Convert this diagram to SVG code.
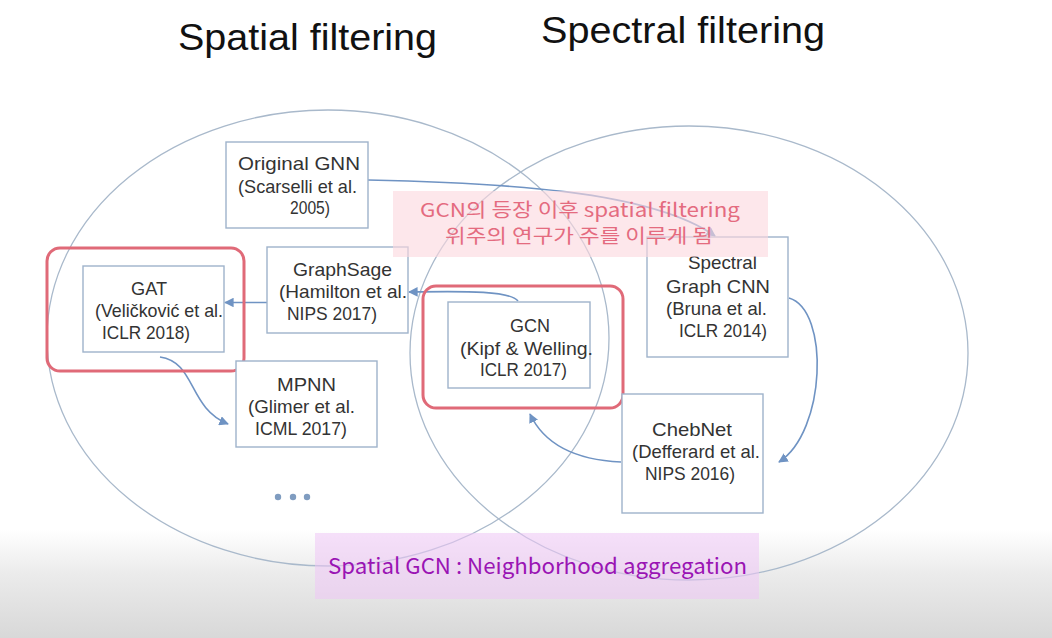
<svg xmlns="http://www.w3.org/2000/svg" width="1052" height="638" viewBox="0 0 1052 638">
<defs>
<linearGradient id="bg" x1="0" y1="0" x2="0" y2="1">
<stop offset="0" stop-color="#ffffff"/>
<stop offset="0.83" stop-color="#ffffff"/>
<stop offset="0.9" stop-color="#ebebeb"/>
<stop offset="1" stop-color="#d8d8d8"/>
</linearGradient>
<marker id="ah" viewBox="0 0 10 10" refX="9" refY="5" markerWidth="6" markerHeight="6" orient="auto" markerUnits="strokeWidth">
<path d="M0,0 L10,5 L0,10 z" fill="#6f93c3"/>
</marker>
<style>
.ell{fill:none;stroke:#a9b9cb;stroke-width:1.3}
.box{fill:#ffffff;stroke:#9fb3cb;stroke-width:1.4}
.hl{fill:none;stroke:#e06a78;stroke-width:3}
.t{font-family:"Liberation Sans","Noto Sans",sans-serif;font-size:18.5px;fill:#333333}
.title{font-family:"Liberation Sans",sans-serif;font-size:37px;fill:#111}
.con{fill:none;stroke:#6f93c3;stroke-width:1.6;marker-end:url(#ah)}
.note1{font-family:"Noto Sans CJK KR","Noto Sans",sans-serif;font-size:19px;fill:#e46b7f}
.note2{font-family:"Noto Sans CJK KR","Noto Sans",sans-serif;font-size:22px;fill:#9a14b4}
</style>
</defs>
<rect x="0" y="0" width="1052" height="638" fill="url(#bg)"/>

<text class="title" x="178" y="50" textLength="259" lengthAdjust="spacingAndGlyphs">Spatial filtering</text>
<text class="title" x="541" y="43" textLength="284" lengthAdjust="spacingAndGlyphs">Spectral filtering</text>

<g id="ellipses">
<ellipse class="ell" cx="328" cy="338" rx="281" ry="228"/>
<ellipse class="ell" cx="689" cy="353" rx="279" ry="227"/>
</g>

<g id="connectors">
<path class="con" d="M368,180 C500,183 650,190 715,236"/>
<path class="con" d="M267,302.5 L225,302.5"/>
<path class="con" d="M518,301 C510,291 470,291 409,292"/>
<path class="con" d="M789,298 C830,310 826,432 779,462"/>
<path class="con" d="M621,462 C577,460 545,446 530,414"/>
<path class="con" d="M160,357 C196,362 188,408 228,424"/>
</g>

<g id="node-original-gnn">
<rect class="box" x="226" y="142" width="142" height="86"/>
<text class="t" x="238" y="170" textLength="122" lengthAdjust="spacingAndGlyphs">Original GNN</text>
<text class="t" x="238" y="193" textLength="119" lengthAdjust="spacingAndGlyphs">(Scarselli et al.</text>
<text class="t" x="290" y="214" textLength="40" lengthAdjust="spacingAndGlyphs">2005)</text>
</g>

<g id="node-gat">
<rect class="box" x="83" y="266" width="141" height="86"/>
<rect class="hl" x="47" y="248" width="197" height="123" rx="13"/>
<text class="t" x="131" y="295" textLength="36" lengthAdjust="spacingAndGlyphs">GAT</text>
<text class="t" x="95" y="316.5" textLength="128" lengthAdjust="spacingAndGlyphs">(Veličković et al.</text>
<text class="t" x="102" y="339" textLength="88" lengthAdjust="spacingAndGlyphs">ICLR 2018)</text>
</g>

<g id="node-graphsage">
<rect class="box" x="267" y="247" width="141" height="86"/>
<text class="t" x="293" y="276" textLength="99" lengthAdjust="spacingAndGlyphs">GraphSage</text>
<text class="t" x="279" y="298" textLength="128" lengthAdjust="spacingAndGlyphs">(Hamilton et al.</text>
<text class="t" x="287" y="320" textLength="90" lengthAdjust="spacingAndGlyphs">NIPS 2017)</text>
</g>

<g id="node-mpnn">
<rect class="box" x="236" y="361" width="141" height="86"/>
<text class="t" x="277" y="391" textLength="59" lengthAdjust="spacingAndGlyphs">MPNN</text>
<text class="t" x="248" y="413" textLength="107" lengthAdjust="spacingAndGlyphs">(Glimer et al.</text>
<text class="t" x="255" y="435" textLength="92" lengthAdjust="spacingAndGlyphs">ICML 2017)</text>
</g>

<g id="node-more" fill="#7f9cc0">
<circle cx="278" cy="497" r="3.2"/>
<circle cx="293" cy="497" r="3.2"/>
<circle cx="307" cy="497" r="3.2"/>
</g>

<g id="node-gcn">
<rect class="box" x="448" y="302" width="142" height="86"/>
<rect class="hl" x="423" y="286" width="200" height="122" rx="13"/>
<text class="t" x="510" y="332" textLength="40" lengthAdjust="spacingAndGlyphs">GCN</text>
<text class="t" x="460" y="355" textLength="133" lengthAdjust="spacingAndGlyphs">(Kipf &amp; Welling.</text>
<text class="t" x="480" y="376" textLength="87" lengthAdjust="spacingAndGlyphs">ICLR 2017)</text>
</g>

<g id="node-spectral-cnn">
<rect class="box" x="647" y="237" width="141" height="120"/>
<text class="t" x="688" y="269" textLength="69" lengthAdjust="spacingAndGlyphs">Spectral</text>
<text class="t" x="666" y="292.5" textLength="104" lengthAdjust="spacingAndGlyphs">Graph CNN</text>
<text class="t" x="666" y="315" textLength="101" lengthAdjust="spacingAndGlyphs">(Bruna et al.</text>
<text class="t" x="679" y="337" textLength="88" lengthAdjust="spacingAndGlyphs">ICLR 2014)</text>
</g>

<g id="node-chebnet">
<rect class="box" x="622" y="394" width="141" height="119"/>
<text class="t" x="652" y="436" textLength="80" lengthAdjust="spacingAndGlyphs">ChebNet</text>
<text class="t" x="632" y="458" textLength="128" lengthAdjust="spacingAndGlyphs">(Defferard et al.</text>
<text class="t" x="645" y="479.5" textLength="90" lengthAdjust="spacingAndGlyphs">NIPS 2016)</text>
</g>

<g id="note-top">
<rect x="393" y="191" width="375" height="66" fill="#fcd9df" fill-opacity="0.62"/>
<text class="note1" x="420" y="217" textLength="320" lengthAdjust="spacingAndGlyphs">GCN의 등장 이후 spatial filtering</text>
<text class="note1" x="445" y="243" textLength="268" lengthAdjust="spacingAndGlyphs">위주의 연구가 주를 이루게 됨</text>
</g>

<g id="note-bottom">
<rect x="315" y="533" width="444" height="66" fill="#efc6f5" fill-opacity="0.55"/>
<text class="note2" x="328" y="574" textLength="419" lengthAdjust="spacingAndGlyphs">Spatial GCN : Neighborhood aggregation</text>
</g>
</svg>
